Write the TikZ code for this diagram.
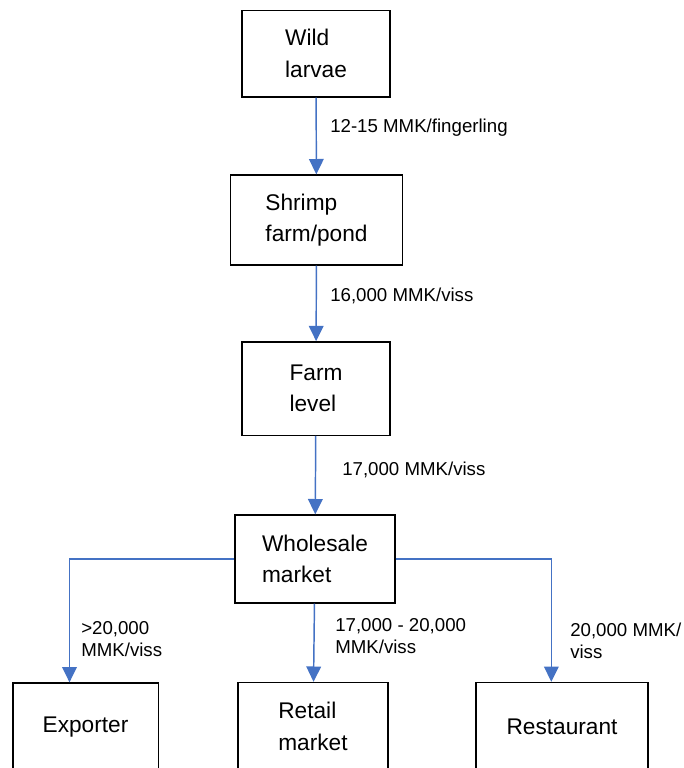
\documentclass[tikz,border=0pt]{standalone}
\usepackage{fontspec}
\setmainfont{Liberation Sans}
\usetikzlibrary{arrows.meta, positioning}
\definecolor{flowblue}{HTML}{4472C4}

\begin{document}
\begin{tikzpicture}[
                x=0.75pt, y=-0.75pt,
                box/.style={draw, line width=1pt, align=left, minimum height=66pt, font=\fontsize{17}{23.5}\selectfont},
                flow/.style={draw=flowblue, line width=1.1pt, -{Triangle[length=11.5pt, width=11pt]}},
                price/.style={anchor=west, inner sep=0pt, align=left, font=\fontsize{14}{16.5}\selectfont}
            ]
                \useasboundingbox (0,0) rectangle (683,768);
                \clip (0,0) rectangle (683,768);

                \node[box, minimum width=111pt, minimum height=65pt] (wild) at (316,53.5) {Wild\\larvae};
                \node[box, minimum width=129pt, minimum height=67.5pt] (shrimp) at (316.5,220) {Shrimp\\farm/pond};
                \node[box, minimum width=111pt, minimum height=70pt] (farm) at (316,388.5) {Farm\\level};
                \node[box, minimum width=120pt] (whole) at (315,559) {Wholesale\\market};
                \node[box, minimum width=109pt] (exp) at (85.5,727) {Exporter};
                \node[box, minimum width=112.5pt] (retail) at (313,726.5) {Retail\\market};
                \node[box, minimum width=129pt] (rest) at (562,726.5) {Restaurant};

                \draw[flow] (wild) -- (shrimp);
                \draw[flow] (shrimp) -- (farm);
                \draw[flow] (farm) -- (whole);
                \draw[flow] (whole.west) -| ([xshift=-12pt]exp.north);
                \draw[flow] (whole) -- (retail);
                \draw[flow] (whole.east) -| ([xshift=-8pt]rest.north);

                \node[price] (p1) at (330,128) {12-15 MMK/fingerling};
                \node[price] (p2) at (330,296) {16,000 MMK/viss};
                \node[price] (p3) at (342,470) {17,000 MMK/viss};
                \node[price] (p4) at (81,639) {>20,000\\MMK/viss};
                \node[price] (p5) at (335,636) {17,000 - 20,000\\MMK/viss};
                \node[price] (p6) at (570,641) {20,000 MMK/\\viss};
            \end{tikzpicture}
\end{document}
